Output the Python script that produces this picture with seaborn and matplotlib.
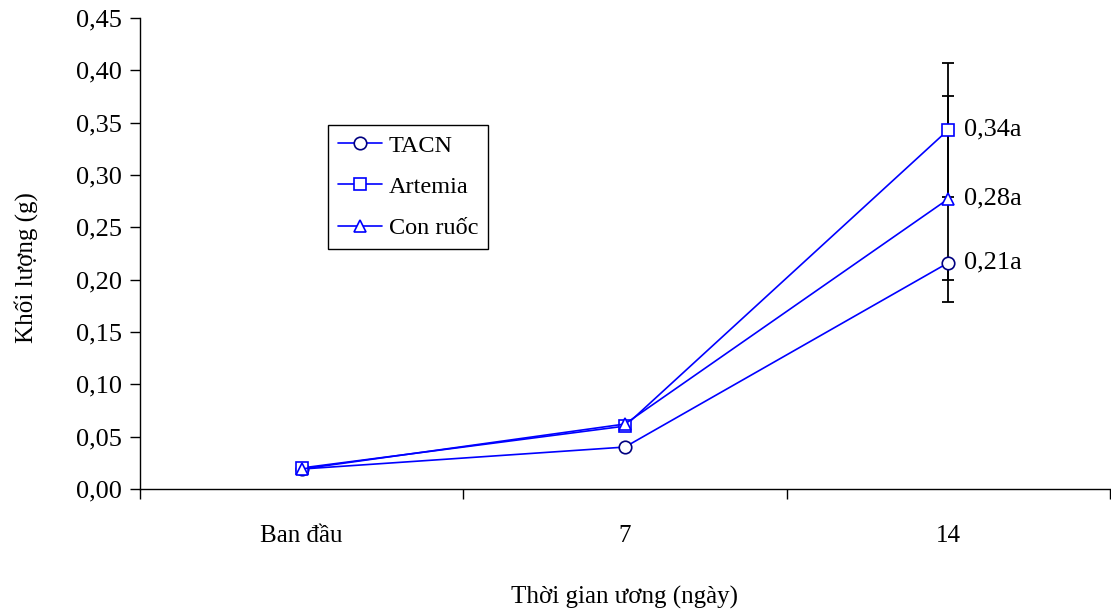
import numpy as np
import pandas as pd
import seaborn as sns
import matplotlib.pyplot as plt
from matplotlib.ticker import FixedLocator, NullFormatter

times = ["Ban đầu", "7", "14"]
series = ["TACN", "Artemia", "Con ruốc"]
tacn = [0.019, 0.040, 0.216]
artemia = [0.020, 0.060, 0.343]
con_ruoc = [0.019, 0.062, 0.277]
# error bars at day 14 (lower, upper)
err_low = [0.016, 0.064, 0.098]
err_high = [0.0, 0.064, 0.098]
labels = ["0,21a", "0,34a", "0,28a"]
yticks = [0.0, 0.05, 0.10, 0.15, 0.20, 0.25, 0.30, 0.35, 0.40, 0.45]

rows = []
for name, vals in zip(series, [tacn, artemia, con_ruoc]):
    for t, v in zip(times, vals):
        rows.append({"time": t, "mass": v, "series": name})
df = pd.DataFrame(rows)

sns.set_style("ticks")
plt.rcParams["font.family"] = ["Liberation Serif", "DejaVu Serif"]
plt.rcParams["text.color"] = "black"
plt.rcParams["axes.labelcolor"] = "black"
plt.rcParams["xtick.color"] = "black"
plt.rcParams["ytick.color"] = "black"
FS = 18

fig = plt.figure(figsize=(11.11, 6.15), dpi=100)
ax = fig.add_axes([0.126, 0.205, 0.873, 0.766])

markers = {"TACN": "o", "Artemia": "s", "Con ruốc": "^"}
edges = {"TACN": "#000080", "Artemia": "#0000ff", "Con ruốc": "#0000ff"}
sizes = {"TACN": 9, "Artemia": 9, "Con ruốc": 8}

for name in series:
    sub = df[df["series"] == name]
    sns.lineplot(data=sub, x="time", y="mass", ax=ax, color="#0000ff",
                 marker=markers[name], markersize=sizes[name],
                 markerfacecolor="white", markeredgecolor=edges[name],
                 markeredgewidth=1.2, linewidth=1.2, label=name, zorder=3)

last = [tacn[-1], artemia[-1], con_ruoc[-1]]
for v, lo, hi, lab in zip(last, err_low, err_high, labels):
    ax.errorbar([times[-1]], [v], yerr=[[lo], [hi]], fmt="none", ecolor="black",
                elinewidth=1.3, capsize=4.4, capthick=1.3, zorder=2)
    ax.annotate(lab, xy=(times[-1], v), xytext=(16, 0), textcoords="offset pixels",
                ha="left", va="center", fontsize=FS + 1)

ax.set_xlim(-0.5, 2.5)
ax.set_ylim(0, 0.45)
ax.set_yticks(yticks)
ax.set_yticklabels([f"{t:.2f}".replace(".", ",") for t in yticks])
ax.xaxis.set_major_locator(FixedLocator([-0.5, 0.5, 1.5, 2.5]))
ax.xaxis.set_major_formatter(NullFormatter())
ax.xaxis.set_minor_locator(FixedLocator([0, 1, 2]))
ax.set_xticklabels(times, minor=True)
ax.tick_params(axis="x", which="minor", length=0, pad=26, labelsize=FS)
ax.tick_params(axis="x", which="major", length=7, width=1, direction="out")
ax.tick_params(axis="y", length=7, width=1, direction="out", labelsize=FS + 1, pad=6)

ax.set_xlabel("Thời gian ương (ngày)", fontsize=FS)
ax.xaxis.set_label_coords(0.5, -0.205)
ax.set_ylabel("Khối lượng (g)", fontsize=FS)
ax.yaxis.set_label_coords(-0.105, 0.47)

for s in ["left", "bottom"]:
    ax.spines[s].set_color("black")
    ax.spines[s].set_linewidth(1)
sns.despine(ax=ax)

leg = ax.legend(loc="upper left", bbox_to_anchor=(0.194, 0.773), fontsize=FS - 0.5,
                frameon=True, fancybox=False, edgecolor="black", framealpha=1,
                handlelength=1.8, handletextpad=0.3, labelspacing=0.8,
                borderpad=0.4, borderaxespad=0)
leg.get_frame().set_linewidth(1)

fig.savefig("out.png", dpi=100)
